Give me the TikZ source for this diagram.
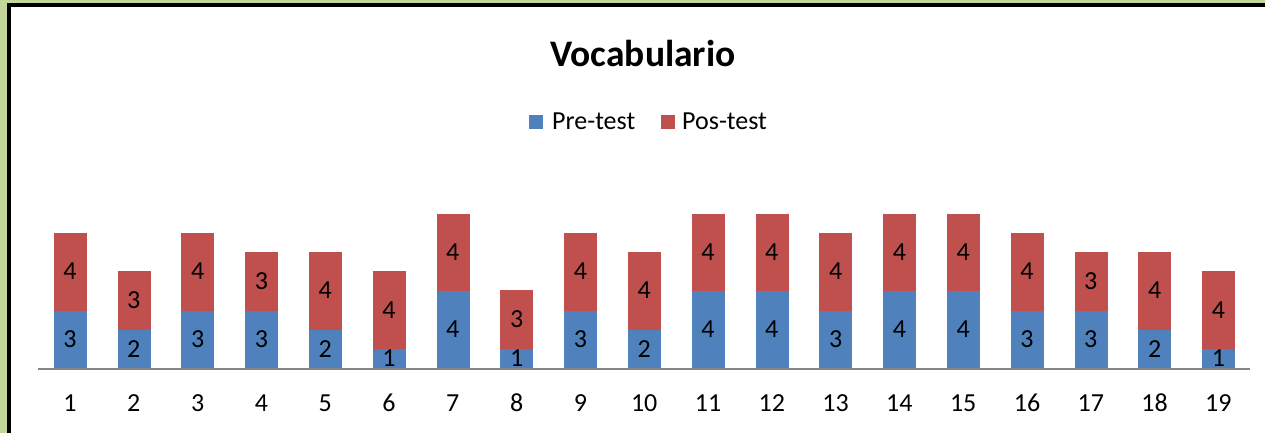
\documentclass[tikz,border=0pt]{standalone}
\usepackage{fontspec}
\setmainfont{Carlito}
\usetikzlibrary{positioning}
\definecolor{preBlue}{HTML}{4F81BD}
\definecolor{posRed}{HTML}{C0504D}
\definecolor{frameGreen}{HTML}{C3D69B}
\definecolor{axisGray}{HTML}{868686}

\begin{document}
\begin{tikzpicture}[x = 1pt, y = -1pt]
\tikzstyle{preStyle} = [shape = rectangle, anchor = south, minimum width = 32pt, inner sep = 0pt, fill = preBlue, draw = preBlue, line width = 0.4pt, font = \fontsize{26}{30}\selectfont]
\tikzstyle{posStyle} = [shape = rectangle, anchor = south, minimum width = 32pt, inner sep = 0pt, fill = posRed, draw = posRed, line width = 0.4pt, font = \fontsize{26}{30}\selectfont]
\tikzstyle{catStyle} = [anchor = base, inner sep = 0pt, font = \fontsize{26}{30}\selectfont]
\tikzstyle{keyStyle} = [shape = rectangle, minimum size = 14pt, inner sep = 0pt]
\tikzstyle{keyText} = [anchor = base west, inner sep = 0pt, font = \fontsize{26}{30}\selectfont]
\useasboundingbox (0,0) rectangle (1265,433);
% background and frame
\fill[frameGreen] (0,0) rectangle (1265,433);
\fill[black] (7,3) rectangle (1265,433);
\fill[white] (11,7) rectangle (1265,433);
% title and legend
\node[anchor = base, inner sep = 0pt, font = \fontsize{37.5}{42}\selectfont\bfseries] (title) at (643,66.5) {Vocabulario};
\node[keyStyle, fill = preBlue] (preKey) at (536,122) {};
\node[keyText] (preText) at (552,129.5) {Pre-test};
\node[keyStyle, fill = posRed] (posKey) at (667.5,122) {};
\node[keyText] (posText) at (682,129.5) {Pos-test};
% axis
\coordinate (axisL) at (38,368.5);
\coordinate (axisR) at (1250,368.5);
% bars: pre-test
\node[preStyle, minimum height = 57.6pt] (p1) at (70,368) {3};
\node[preStyle, minimum height = 38.4pt] (p2) at (133.8,368) {2};
\node[preStyle, minimum height = 57.6pt] (p3) at (197.6,368) {3};
\node[preStyle, minimum height = 57.6pt] (p4) at (261.4,368) {3};
\node[preStyle, minimum height = 38.4pt] (p5) at (325.2,368) {2};
\node[preStyle, minimum height = 19.2pt] (p6) at (389,368) {1};
\node[preStyle, minimum height = 76.8pt] (p7) at (452.8,368) {4};
\node[preStyle, minimum height = 19.2pt] (p8) at (516.6,368) {1};
\node[preStyle, minimum height = 57.6pt] (p9) at (580.4,368) {3};
\node[preStyle, minimum height = 38.4pt] (p10) at (644.2,368) {2};
\node[preStyle, minimum height = 76.8pt] (p11) at (708,368) {4};
\node[preStyle, minimum height = 76.8pt] (p12) at (771.8,368) {4};
\node[preStyle, minimum height = 57.6pt] (p13) at (835.6,368) {3};
\node[preStyle, minimum height = 76.8pt] (p14) at (899.4,368) {4};
\node[preStyle, minimum height = 76.8pt] (p15) at (963.2,368) {4};
\node[preStyle, minimum height = 57.6pt] (p16) at (1027,368) {3};
\node[preStyle, minimum height = 57.6pt] (p17) at (1090.8,368) {3};
\node[preStyle, minimum height = 38.4pt] (p18) at (1154.6,368) {2};
\node[preStyle, minimum height = 19.2pt] (p19) at (1218.4,368) {1};
% bars: pos-test
\node[posStyle, minimum height = 76.8pt] (q1) at (p1.north) {4};
\node[posStyle, minimum height = 57.6pt] (q2) at (p2.north) {3};
\node[posStyle, minimum height = 76.8pt] (q3) at (p3.north) {4};
\node[posStyle, minimum height = 57.6pt] (q4) at (p4.north) {3};
\node[posStyle, minimum height = 76.8pt] (q5) at (p5.north) {4};
\node[posStyle, minimum height = 76.8pt] (q6) at (p6.north) {4};
\node[posStyle, minimum height = 76.8pt] (q7) at (p7.north) {4};
\node[posStyle, minimum height = 57.6pt] (q8) at (p8.north) {3};
\node[posStyle, minimum height = 76.8pt] (q9) at (p9.north) {4};
\node[posStyle, minimum height = 76.8pt] (q10) at (p10.north) {4};
\node[posStyle, minimum height = 76.8pt] (q11) at (p11.north) {4};
\node[posStyle, minimum height = 76.8pt] (q12) at (p12.north) {4};
\node[posStyle, minimum height = 76.8pt] (q13) at (p13.north) {4};
\node[posStyle, minimum height = 76.8pt] (q14) at (p14.north) {4};
\node[posStyle, minimum height = 76.8pt] (q15) at (p15.north) {4};
\node[posStyle, minimum height = 76.8pt] (q16) at (p16.north) {4};
\node[posStyle, minimum height = 57.6pt] (q17) at (p17.north) {3};
\node[posStyle, minimum height = 76.8pt] (q18) at (p18.north) {4};
\node[posStyle, minimum height = 76.8pt] (q19) at (p19.north) {4};
\draw[axisGray, line width = 2pt] (axisL) -- (axisR);
% category labels
\node[catStyle] (c1) at (70,411.5) {1};
\node[catStyle] (c2) at (133.8,411.5) {2};
\node[catStyle] (c3) at (197.6,411.5) {3};
\node[catStyle] (c4) at (261.4,411.5) {4};
\node[catStyle] (c5) at (325.2,411.5) {5};
\node[catStyle] (c6) at (389,411.5) {6};
\node[catStyle] (c7) at (452.8,411.5) {7};
\node[catStyle] (c8) at (516.6,411.5) {8};
\node[catStyle] (c9) at (580.4,411.5) {9};
\node[catStyle] (c10) at (644.2,411.5) {10};
\node[catStyle] (c11) at (708,411.5) {11};
\node[catStyle] (c12) at (771.8,411.5) {12};
\node[catStyle] (c13) at (835.6,411.5) {13};
\node[catStyle] (c14) at (899.4,411.5) {14};
\node[catStyle] (c15) at (963.2,411.5) {15};
\node[catStyle] (c16) at (1027,411.5) {16};
\node[catStyle] (c17) at (1090.8,411.5) {17};
\node[catStyle] (c18) at (1154.6,411.5) {18};
\node[catStyle] (c19) at (1218.4,411.5) {19};
\end{tikzpicture}
\end{document}
